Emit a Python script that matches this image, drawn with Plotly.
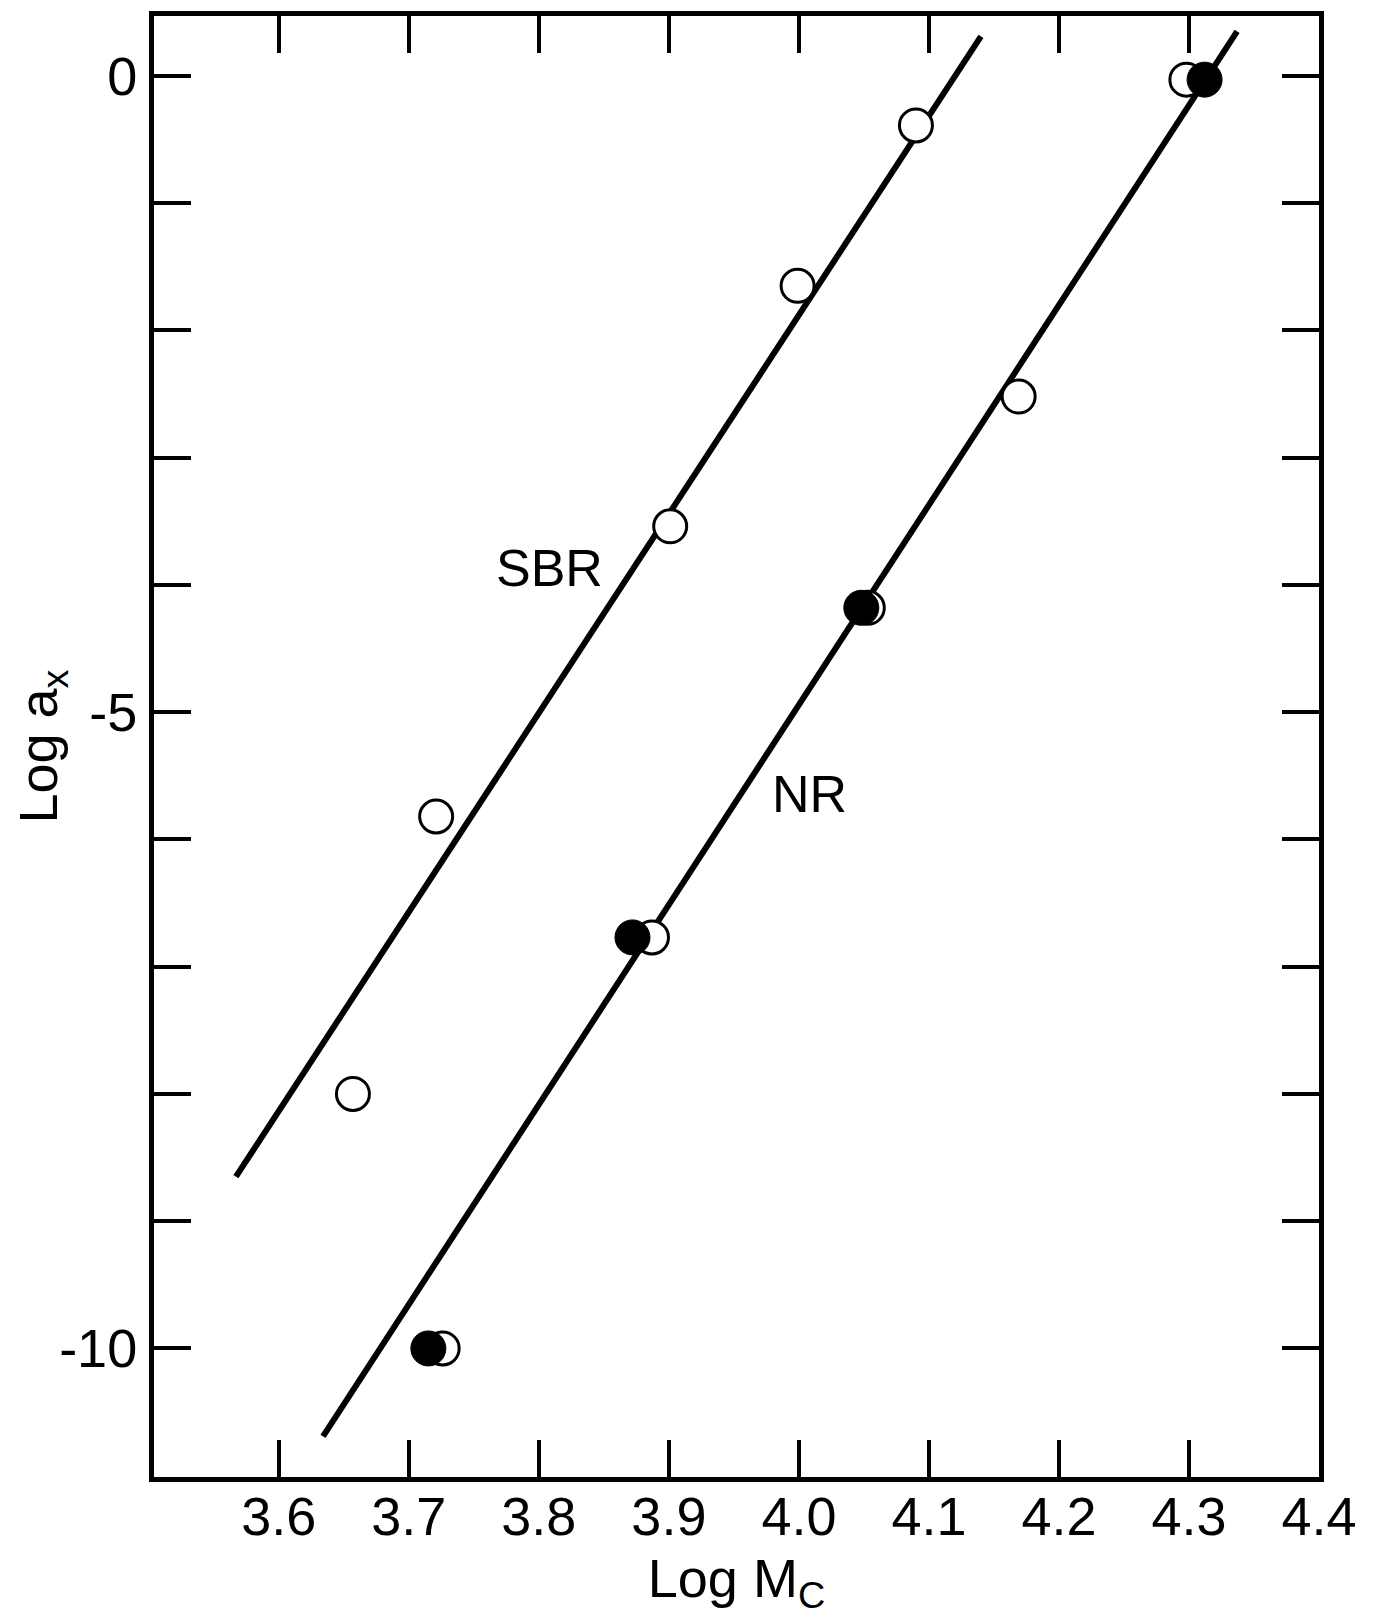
import plotly.graph_objects as go

# ---- data ----
sbr_open_x = [3.657, 3.721, 3.901, 3.999, 4.090]
sbr_open_y = [-8.00, -5.82, -3.54, -1.65, -0.39]

nr_open_x = [3.726, 3.887, 4.053, 4.169, 4.298]
nr_open_y = [-10.00, -6.77, -4.18, -2.52, -0.03]

nr_filled_x = [3.715, 3.872, 4.048, 4.312]
nr_filled_y = [-10.00, -6.77, -4.18, -0.03]

sbr_line_x = [3.567, 4.140]
sbr_line_y = [-8.65, 0.31]
nr_line_x = [3.634, 4.337]
nr_line_y = [-10.69, 0.35]

x_tick_vals = [3.6, 3.7, 3.8, 3.9, 4.0, 4.1, 4.2, 4.3, 4.4]
x_tick_text = ["3.6", "3.7", "3.8", "3.9", "4.0", "4.1", "4.2", "4.3", "4.4"]
y_tick_vals = [0, -5, -10]
y_tick_text = ["0", "-5", "-10"]
y_minor_vals = [-1, -2, -3, -4, -6, -7, -8, -9]

FONT = "Liberation Sans, Arial, sans-serif"

fig = go.Figure()

# fitted lines (drawn first, beneath markers)
for lx, ly in [(sbr_line_x, sbr_line_y), (nr_line_x, nr_line_y)]:
    fig.add_trace(go.Scatter(x=lx, y=ly, mode="lines",
                             line=dict(color="black", width=6),
                             hoverinfo="skip", showlegend=False))

# open circles
fig.add_trace(go.Scatter(x=sbr_open_x + nr_open_x, y=sbr_open_y + nr_open_y,
                         mode="markers",
                         marker=dict(symbol="circle", size=33, color="white",
                                     line=dict(color="black", width=3)),
                         showlegend=False))
# filled circles (on top)
fig.add_trace(go.Scatter(x=nr_filled_x, y=nr_filled_y, mode="markers",
                         marker=dict(symbol="circle", size=35, color="black",
                                     line=dict(color="black", width=1)),
                         showlegend=False))

fig.add_annotation(x=3.808, y=-3.87, xref="x", yref="y", text="SBR",
                   showarrow=False, font=dict(family=FONT, size=52, color="black"))
fig.add_annotation(x=4.008, y=-5.64, xref="x", yref="y", text="NR",
                   showarrow=False, font=dict(family=FONT, size=52, color="black"))

axis_common = dict(showline=True, linecolor="black", linewidth=5, mirror="ticks",
                   ticks="inside", ticklen=37, tickwidth=3.5, tickcolor="black",
                   showgrid=False, zeroline=False,
                   tickfont=dict(family=FONT, size=54, color="black"))

fig.update_xaxes(range=[3.504, 4.4], tickmode="array", tickvals=x_tick_vals,
                 ticktext=x_tick_text, ticklabelstandoff=-12,
                 title=dict(text="Log M<sub>C</sub>", standoff=16,
                            font=dict(family=FONT, size=54, color="black")),
                 **axis_common)
fig.update_yaxes(range=[-11.01, 0.47], tickmode="array", tickvals=y_tick_vals,
                 ticktext=y_tick_text, ticklabelstandoff=1,
                 title=dict(text="Log a<sub>x</sub>", standoff=0,
                            font=dict(family=FONT, size=54, color="black")),
                 minor=dict(tickmode="array", tickvals=y_minor_vals, ticks="inside",
                            ticklen=37, tickwidth=3.5, tickcolor="black",
                            showgrid=False),
                 **axis_common)

# the page body adds an 8px margin, so the figure is offset by it
fig.update_layout(width=1365, height=1608,
                  margin=dict(l=146, r=54, t=3, b=139, pad=0),
                  paper_bgcolor="white", plot_bgcolor="white",
                  font=dict(family=FONT, color="black"))

fig.write_html("out.html")
